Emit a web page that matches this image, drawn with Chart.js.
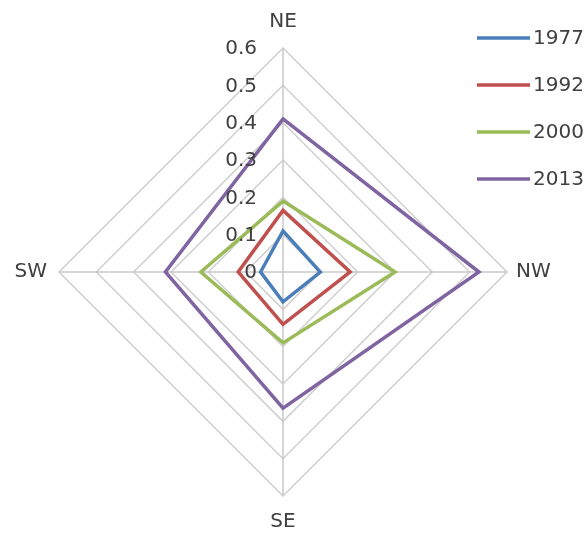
<!DOCTYPE html>
<html>
<head>
<meta charset="utf-8">
<script src="https://cdn.jsdelivr.net/npm/chart.js@4"></script>
<style>
  body { margin: 0; background: #fff; }
  canvas { display: block; }
</style>
</head>
<body>
<canvas id="myChart" width="587" height="535"></canvas>
<script>
var directions = ['NE', 'NW', 'SE', 'SW'];
var years = ['1977', '1992', '2000', '2013'];
var values1977 = [0.11, 0.10, 0.08, 0.06];
var values1992 = [0.165, 0.18, 0.14, 0.12];
var values2000 = [0.19, 0.30, 0.19, 0.22];
var values2013 = [0.41, 0.525, 0.365, 0.315];
var tickValues = [0, 0.1, 0.2, 0.3, 0.4, 0.5, 0.6];
var colors = ['#4a7ebb', '#c0504d', '#9bbb59', '#8064a2'];

const textColor = '#404040';
const fontFamily = '"DejaVu Sans", sans-serif';

function makeSet(i, values) {
    return {
        label: years[i],
        data: values,
        borderColor: colors[i],
        backgroundColor: colors[i],
        borderWidth: 3.5,
        borderJoinStyle: 'miter',
        pointRadius: 0,
        pointHoverRadius: 0,
        lineTension: 0,
        fill: false
    };
}

const data = {
    labels: directions,
    datasets: [
        makeSet(0, values1977),
        makeSet(1, values1992),
        makeSet(2, values2000),
        makeSet(3, values2013)
    ]
};

// tick numbers sit left of the vertical axis, like the original
const tickLabels = {
    id: 'tickLabels',
    afterDraw(chart) {
        const scale = chart.scales.r;
        const ctx = chart.ctx;
        ctx.save();
        ctx.font = '20px ' + fontFamily;
        ctx.fillStyle = textColor;
        ctx.textAlign = 'right';
        ctx.textBaseline = 'middle';
        tickValues.forEach(function (v) {
            const p = scale.getPointPositionForValue(0, v);
            ctx.fillText(String(v), p.x - 26, p.y + 1);
        });
        ctx.restore();
    }
};

// legend stacked in the top right corner
const cornerLegend = {
    id: 'cornerLegend',
    afterDraw(chart) {
        const ctx = chart.ctx;
        ctx.save();
        ctx.font = '20px ' + fontFamily;
        ctx.textAlign = 'left';
        ctx.textBaseline = 'middle';
        chart.data.datasets.forEach(function (ds, i) {
            const y = 38 + i * 47;
            ctx.strokeStyle = ds.borderColor;
            ctx.lineWidth = 3.5;
            ctx.beginPath();
            ctx.moveTo(477, y);
            ctx.lineTo(530, y);
            ctx.stroke();
            ctx.fillStyle = textColor;
            ctx.fillText(ds.label, 533, y + 1);
        });
        ctx.restore();
    }
};

const config = {
    type: 'radar',
    data: data,
    options: {
        responsive: false,
        animation: false,
        layout: {
            padding: { top: 10, bottom: 1, left: 0, right: 20 }
        },
        plugins: {
            legend: { display: false },
            tooltip: { enabled: false }
        },
        scales: {
            r: {
                min: 0,
                max: 0.6,
                startAngle: 0,
                ticks: { stepSize: 0.1, display: false },
                grid: { color: '#cfcfcf', lineWidth: 1.5 },
                angleLines: { color: '#c8c8c8', lineWidth: 1.5 },
                pointLabels: {
                    color: textColor,
                    font: { family: fontFamily, size: 20 },
                    padding: function (ctx) {
                        return [14, 9, 14, 12][ctx.index];
                    }
                }
            }
        }
    },
    plugins: [tickLabels, cornerLegend]
};

const myChart = new Chart(
    document.getElementById('myChart'),
    config
);
</script>
</body>
</html>
